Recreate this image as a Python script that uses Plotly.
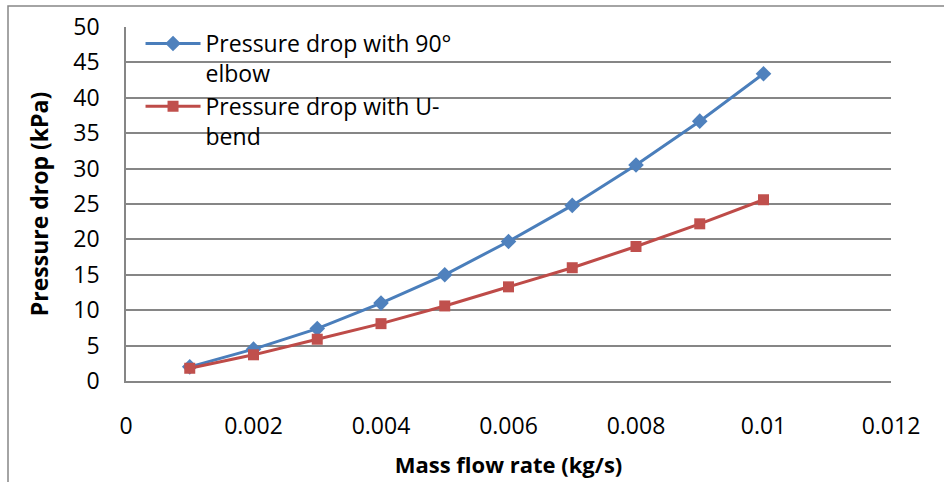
import plotly.graph_objects as go

# Mass flow rate (kg/s)
mass_flow = [0.001, 0.002, 0.003, 0.004, 0.005, 0.006, 0.007, 0.008, 0.009, 0.010]
# Pressure drop (kPa)
dp_elbow = [2.0, 4.5, 7.4, 11.0, 15.0, 19.7, 24.8, 30.5, 36.7, 43.4]
dp_ubend = [1.8, 3.7, 5.9, 8.1, 10.6, 13.3, 16.0, 19.0, 22.2, 25.6]

x_ticks = [0, 0.002, 0.004, 0.006, 0.008, 0.010, 0.012]
x_tick_text = ["0", "0.002", "0.004", "0.006", "0.008", "0.01", "0.012"]
y_ticks = [0, 5, 10, 15, 20, 25, 30, 35, 40, 45, 50]

FONT = "Open Sans"
GRID = "#868686"

fig = go.Figure()
fig.add_trace(go.Scatter(
    x=mass_flow, y=dp_elbow, mode="lines+markers",
    name="Pressure drop with 90°<br>elbow",
    line=dict(color="#4A7EBB", width=3),
    marker=dict(symbol="diamond", size=12, color="#4F81BD"),
))
fig.add_trace(go.Scatter(
    x=mass_flow, y=dp_ubend, mode="lines+markers",
    name="Pressure drop with U-<br>bend",
    line=dict(color="#BE4B48", width=3),
    marker=dict(symbol="square", size=11, color="#C0504D"),
))

fig.update_layout(
    width=944, height=482,
    margin=dict(l=126, r=53, t=27, b=101),
    paper_bgcolor="white", plot_bgcolor="white",
    font=dict(family=FONT, size=23, color="black"),
    showlegend=True,
    legend=dict(
        x=0.019, y=1.014, xanchor="left", yanchor="top",
        bgcolor="rgba(0,0,0,0)", borderwidth=0,
        font=dict(family=FONT, size=23, color="black"),
        valign="top", tracegroupgap=0, itemwidth=55,
    ),
    xaxis=dict(
        range=[0, 0.012], tickmode="array", tickvals=x_ticks, ticktext=x_tick_text,
        showgrid=False, zeroline=False, automargin=False,
        showline=True, linecolor=GRID, linewidth=1.5,
        ticks="", ticklabelstandoff=24,
        tickfont=dict(family=FONT, size=23),
        title=dict(text="<b>Mass flow rate (kg/s)</b>", standoff=17,
                   font=dict(family=FONT, size=22)),
    ),
    yaxis=dict(
        range=[0, 50], tickmode="array", tickvals=y_ticks,
        showgrid=True, gridcolor=GRID, gridwidth=1.5,
        zeroline=False, automargin=False,
        showline=True, linecolor=GRID, linewidth=1.5,
        ticks="", ticklabelstandoff=20,
        tickfont=dict(family=FONT, size=23),
        title=dict(text="<b>Pressure drop (kPa)</b>", standoff=18,
                   font=dict(family=FONT, size=23)),
    ),
)

# Outer chart frame
fig.add_shape(
    type="rect", xref="paper", yref="paper",
    x0=(8 - 126) / 765, x1=1.3, y0=-0.6, y1=(381 - 6) / 354,
    line=dict(color="#868686", width=1.5), fillcolor="rgba(0,0,0,0)", layer="below",
)

fig.write_html("out.html")
